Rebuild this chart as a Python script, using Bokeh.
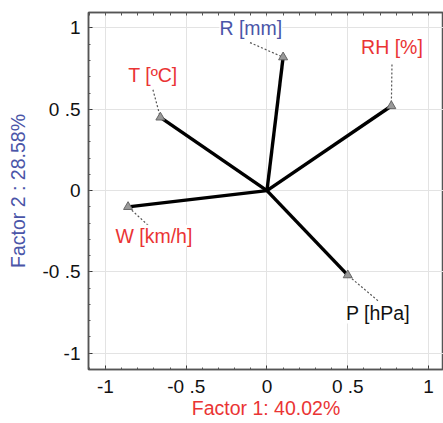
from bokeh.plotting import figure
from bokeh.models import ColumnDataSource, FixedTicker, LinearAxis, Range1d
from bokeh.core.properties import value
from bokeh.embed import file_html
from bokeh.resources import INLINE

# ---- data ----
variables = ["R [mm]", "RH [%]", "T [ºC]", "W [km/h]", "P [hPa]"]
factor1 = [0.10, 0.77, -0.66, -0.86, 0.50]
factor2 = [0.82, 0.52, 0.45, -0.10, -0.52]
label_colors = ["#4a55a8", "#ea3434", "#ea3434", "#ea3434", "#111111"]
# label anchor positions (annotation layout)
label_x = [-0.10, 0.774, -0.706, -0.70, 0.687]
label_y = [1.00, 0.88, 0.708, -0.277, -0.75]
leader_x = [-0.105, 0.774, -0.706, -0.70, 0.687]
leader_y = [0.91, 0.775, 0.62, -0.246, -0.677]

major_ticks = [-1, -0.5, 0, 0.5, 1]
minor_ticks = [-1.1, -1.0, -0.9, -0.8, -0.7, -0.6, -0.5, -0.4, -0.3, -0.2, -0.1, 0.0,
               0.1, 0.2, 0.3, 0.4, 0.5, 0.6, 0.7, 0.8, 0.9, 1.0, 1.1]
tick_labels = {-1: "-1", -0.5: "-0 .5", 0: "0", 0.5: "0 .5", 1: "1"}

x_title = "Factor 1: 40.02%"
y_title = "Factor 2 : 28.58%"

FONT = "Liberation Sans"
RED = "#ea3434"
BLUE = "#4a55a8"

src = ColumnDataSource(dict(x=factor1, y=factor2, name=variables, color=label_colors,
                            lx=label_x, ly=label_y, dx=leader_x, dy=leader_y))

p = figure(width=443, height=423, output_backend="svg", toolbar_location=None,
           x_range=Range1d(-1.105, 1.093), y_range=Range1d(-1.10, 1.095),
           min_border_left=88, min_border_right=0, min_border_top=12, min_border_bottom=54)
p.background_fill_color = "white"
p.border_fill_color = "white"
p.outline_line_color = "#555555"
p.outline_line_width = 1.5

for g in (p.xgrid[0], p.ygrid[0]):
    g.ticker = FixedTicker(ticks=major_ticks)
    g.grid_line_color = "#e3e3e3"
    g.grid_line_width = 1

def style_axis(ax):
    ax.axis_line_color = "#555555"
    ax.axis_line_width = 1.5
    ax.major_tick_in = 4
    ax.major_tick_out = 0
    ax.minor_tick_in = 2
    ax.minor_tick_out = 0
    ax.major_tick_line_color = "#333333"
    ax.minor_tick_line_color = "#555555"

for ax in (p.xaxis[0], p.yaxis[0]):
    style_axis(ax)
    ax.ticker = FixedTicker(ticks=major_ticks, minor_ticks=minor_ticks)
    ax.major_label_overrides = tick_labels
    ax.major_label_text_font = FONT
    ax.major_label_text_font_size = "19px"
    ax.major_label_text_color = "#111111"
    ax.axis_label_text_font = FONT
    ax.axis_label_text_font_size = "19.5px"
    ax.axis_label_text_font_style = "normal"

p.xaxis[0].major_label_standoff = 6
p.yaxis[0].major_label_standoff = 8
p.yaxis[0].major_label_orientation = "horizontal"

p.xaxis[0].axis_label = x_title
p.xaxis[0].axis_label_text_color = RED
p.xaxis[0].axis_label_standoff = -3

p.yaxis[0].axis_label = y_title
p.yaxis[0].axis_label_text_color = BLUE
p.yaxis[0].axis_label_standoff = 10

top_ax = LinearAxis()
style_axis(top_ax)
top_ax.ticker = FixedTicker(ticks=[], minor_ticks=minor_ticks)
top_ax.minor_tick_in = 3
p.add_layout(top_ax, "above")

# leader dotted lines
p.segment(x0="dx", y0="dy", x1="x", y1="y", source=src, line_color="#555555",
          line_width=1.2, line_dash="2 2")
# loading vectors
p.segment(x0=0, y0=0, x1="x", y1="y", source=src, line_color="black", line_width=3.4)
p.scatter(x="x", y="y", source=src, marker="triangle", size=9,
          fill_color="#999999", line_color="#666666", line_width=1)
# labels
p.text(x="lx", y="ly", text="name", source=src, text_color="color",
       text_font=value(FONT), text_font_size="19.5px", text_align="center",
       text_baseline="middle", background_fill_color="white")

open("out.html", "w").write(file_html(p, INLINE))
